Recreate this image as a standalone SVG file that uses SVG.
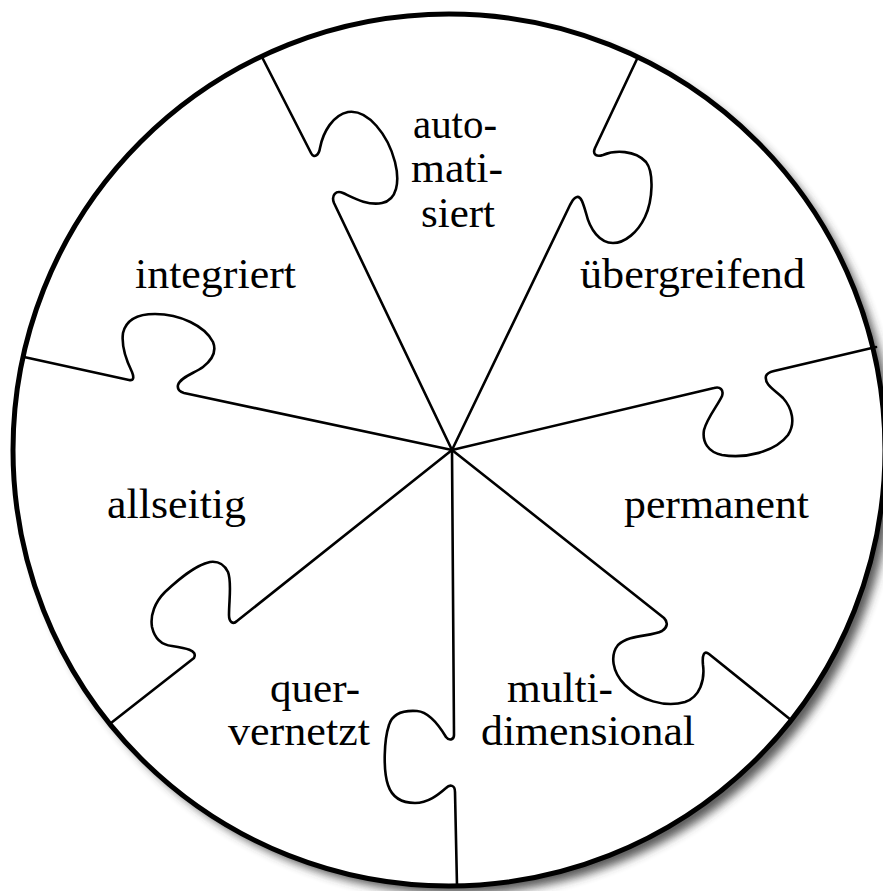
<svg xmlns="http://www.w3.org/2000/svg" width="883" height="891" viewBox="0 0 883 891">
  <defs>
    <filter id="shadow" x="-10%" y="-10%" width="120%" height="120%">
      <feGaussianBlur stdDeviation="5"/>
    </filter>
  </defs>
  <style>
    .cut { fill: none; stroke: #000; stroke-width: 2.6; stroke-linejoin: round; stroke-linecap: round; }
    .lbl { font-family: "Liberation Serif", "Times New Roman", serif; font-size: 42px; fill: #000; }
  </style>
  <rect width="883" height="891" fill="#fff"/>
  <g id="disc">
    <circle cx="457" cy="458" r="436" fill="#333" filter="url(#shadow)" opacity="0.8"/>
    <circle cx="449" cy="450" r="436" fill="#fff" stroke="#000" stroke-width="5"/>
  </g>
  <g id="cuts">
    <path class="cut" d="M263,59 L311,153 C314,159 319,155 320,148 C323,132 333,115 348,112 C368,109 388,135 395,162 C400,182 397,200 382,203 C367,206 352,197 343,193 C336,190 331,195 334,203 L452,450"/>
    <path class="cut" d="M637,59 L595,148 C592,155 597,157 603,155 C615,150 635,150 646,162 C654,172 653,200 645,217 C638,232 625,243 613,243 C600,243 590,230 586,213 C583,203 581,196 577,197 C573,198 572,202 570,205 L452,450"/>
    <path class="cut" d="M452,450 L714,388 C720,386 724,390 722,396 C718,405 707,418 704,430 C702,442 708,452 722,455 C745,459 775,452 788,435 C796,423 792,408 783,398 C775,390 764,385 766,376 C767,373 770,372 774,371 L876,347"/>
    <path class="cut" d="M24,357 L129,380 C134,381 134,377 132,372 C127,362 121,348 123,333 C126,320 138,314 155,314 C180,314 205,326 213,342 C217,352 212,360 203,367 C195,373 180,377 178,385 C177,390 180,392 184,393 L452,450"/>
    <path class="cut" d="M452,450 L237,621 C233,625 229,622 229,615 C229,600 232,582 228,572 C224,564 218,561 210,562 C195,565 178,580 165,592 C155,602 150,615 152,627 C155,640 162,645 172,646 C185,648 198,650 194,658 L111,723"/>
    <path class="cut" d="M452,450 L454,735 C454,740 449,741 446,737 C440,727 430,712 417,711 C402,710 392,715 389,725 C384,740 383,770 388,785 C392,797 402,803 415,803 C428,803 438,795 446,788 C450,784 455,785 455,792 L457,886"/>
    <path class="cut" d="M452,450 L664,618 C668,622 668,627 662,631 C650,637 630,634 618,645 C610,655 612,672 625,685 C640,700 665,708 685,702 C700,697 705,680 703,665 C702,655 704,650 709,654 L791,720"/>
  </g>
  <g id="automatisiert">
    <text class="lbl" x="413" y="138" textLength="84" lengthAdjust="spacingAndGlyphs">auto-</text>
    <text class="lbl" x="411" y="182" textLength="92" lengthAdjust="spacingAndGlyphs">mati-</text>
    <text class="lbl" x="421" y="227" textLength="74" lengthAdjust="spacingAndGlyphs">siert</text>
  </g>
  <g id="uebergreifend">
    <text class="lbl" x="580" y="288" textLength="225" lengthAdjust="spacingAndGlyphs">übergreifend</text>
  </g>
  <g id="integriert">
    <text class="lbl" x="135" y="288" textLength="161" lengthAdjust="spacingAndGlyphs">integriert</text>
  </g>
  <g id="allseitig">
    <text class="lbl" x="107" y="518" textLength="139" lengthAdjust="spacingAndGlyphs">allseitig</text>
  </g>
  <g id="permanent">
    <text class="lbl" x="624" y="518" textLength="185" lengthAdjust="spacingAndGlyphs">permanent</text>
  </g>
  <g id="quervernetzt">
    <text class="lbl" x="270" y="702" textLength="90" lengthAdjust="spacingAndGlyphs">quer-</text>
    <text class="lbl" x="228" y="745" textLength="142" lengthAdjust="spacingAndGlyphs">vernetzt</text>
  </g>
  <g id="multidimensional">
    <text class="lbl" x="507" y="702" textLength="106" lengthAdjust="spacingAndGlyphs">multi-</text>
    <text class="lbl" x="481" y="745" textLength="214" lengthAdjust="spacingAndGlyphs">dimensional</text>
  </g>
</svg>
